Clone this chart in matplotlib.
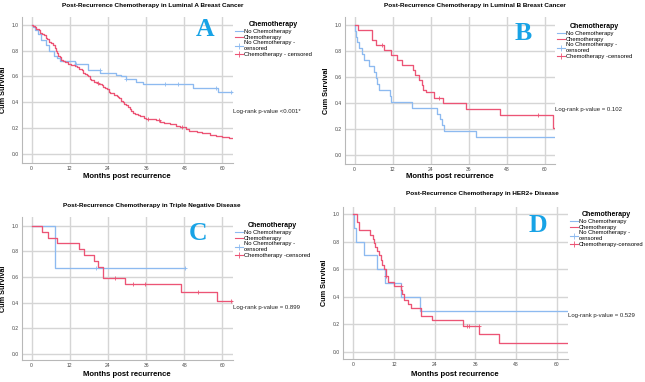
import numpy as np
import matplotlib
matplotlib.use("Agg")
import matplotlib.pyplot as plt
from matplotlib.lines import Line2D

plt.rcParams['font.family'] = ['Liberation Sans', 'DejaVu Sans']

# ---------------- data ----------------
titles = ["Post-Recurrence Chemotherapy in Luminal A Breast Cancer",
          "Post-Recurrence Chemotherapy in Luminal B Breast Cancer",
          "Post-Recurrence Chemotherapy in Triple Negative Disease",
          "Post-Recurrence Chemotherapy in HER2+ Disease"]
panel_letters = ["A", "B", "C", "D"]
pvalue_texts = ["Log-rank p-value <0.001*", "Log-rank p-value = 0.102",
                "Log-rank p-value = 0.899", "Log-rank p-value = 0.529"]
legend_labels = [
    ["No Chemotherapy", "Chemotherapy", "No Chemotherapy -\ncensored", "Chemotherapy - censored"],
    ["No Chemotherapy", "Chemotherapy", "No Chemotherapy -\ncensored", "Chemotherapy -censored"],
    ["No Chemotherapy", "Chemotherapy", "No Chemotherapy -\ncensored", "Chemotherapy -censored"],
    ["No Chemotherapy", "Chemotherapy", "No Chemotherapy -\ncensored", "Chemotherapy-censored"],
]
x_ticks = [0, 12, 24, 36, 48, 60]
y_ticks = [0.0, 0.2, 0.4, 0.6, 0.8, 1.0]

# Panel A
a_no_t = [0, 0.5, 1, 2, 3, 4.5, 5.5, 7, 8, 9, 13.6, 17.7, 21.5, 26.6, 28, 29.7, 32.9, 35, 50.6, 58.5]
a_no_s = [1.0, 0.98, 0.96, 0.93, 0.88, 0.84, 0.80, 0.76, 0.74, 0.72, 0.70, 0.65, 0.63, 0.61, 0.60, 0.58, 0.56, 0.54, 0.51, 0.48]
a_no_c = [14.1, 21.4, 29.7, 41.8, 46.1, 58.0, 62.6]
a_ch_t = [0, 0.5, 1.0, 1.5, 2.2, 2.8, 3.2, 3.8, 4.4, 5.0, 5.6, 6.2, 6.8, 7.4, 7.8, 8.0, 8.4, 8.9,
          9.4, 10.0, 10.5, 11.5, 12.5, 13.5, 14.2, 15.0, 15.7, 16.3, 16.8, 17.3, 17.8, 18.3, 18.8,
          19.5, 20.5, 21.3, 22.0, 22.6, 23.2, 23.8, 24.3, 24.8, 26.0, 26.8, 27.2, 27.6, 28.2, 28.7,
          29.2, 29.7, 30.3, 30.8, 31.4, 32.0, 32.6, 33.3, 34.0, 35.2, 36.0, 39.0, 40.5, 41.5, 43.4,
          45.5, 46.5, 48.5, 49.5, 52.0, 53.7, 56.0, 58.0, 60.0, 62.0]
a_ch_s = [1.0, 0.99, 0.98, 0.97, 0.96, 0.94, 0.93, 0.92, 0.90, 0.89, 0.87, 0.86, 0.84, 0.82, 0.80,
          0.78, 0.76, 0.75, 0.73, 0.72, 0.71, 0.70, 0.69, 0.68, 0.67, 0.66, 0.65, 0.63, 0.62, 0.61,
          0.60, 0.58, 0.57, 0.56, 0.55, 0.54, 0.53, 0.52, 0.51, 0.50, 0.48, 0.47, 0.46, 0.45, 0.44,
          0.43, 0.41, 0.40, 0.39, 0.38, 0.36, 0.35, 0.33, 0.32, 0.31, 0.30, 0.29, 0.28, 0.27, 0.26,
          0.25, 0.24, 0.23, 0.22, 0.21, 0.19, 0.18, 0.17, 0.16, 0.15, 0.14, 0.13, 0.12]
a_ch_c = [20.8, 36.5, 40.2, 47.4]

# Panel B
b_no_t = [0, 0.3, 0.5, 0.7, 1.5, 2.4, 3.0, 4.5, 6.3, 6.7, 7.0, 7.6, 11.2, 11.6, 18.0, 26.0, 26.9, 27.7, 28.4, 38.3]
b_no_s = [1.0, 0.955, 0.909, 0.864, 0.818, 0.773, 0.727, 0.682, 0.636, 0.591, 0.545, 0.50, 0.455, 0.409,
          0.364, 0.318, 0.273, 0.227, 0.182, 0.136]
b_no_c = []
b_ch_t = [0, 1.0, 5.5, 5.6, 6.8, 9.2, 11.5, 13.5, 15.0, 18.5, 19.0, 20.5, 21.2, 21.5, 22.5, 25.0, 27.9, 35.3, 45.9, 62.7]
b_ch_s = [1.0, 0.962, 0.923, 0.885, 0.846, 0.808, 0.769, 0.731, 0.692, 0.654, 0.615, 0.577, 0.538, 0.50,
          0.48, 0.44, 0.40, 0.355, 0.31, 0.207]
b_ch_c = [8.8, 26.6, 58.0]

# Panel C
c_no_t = [0, 7.5]
c_no_s = [1.0, 0.667]
c_no_c = [20.1, 48.2]
c_ch_t = [0, 3.4, 5.3, 8.0, 14.9, 16.5, 19.6, 20.8, 22.5, 22.6, 29.4, 47.0, 58.2]
c_ch_s = [1.0, 0.955, 0.909, 0.864, 0.818, 0.773, 0.727, 0.682, 0.636, 0.59, 0.545, 0.48, 0.41]
c_ch_c = [26.2, 31.9, 35.6, 52.4, 62.8]

# Panel D
d_no_t = [0, 0.3, 0.9, 3.2, 6.9, 9.4, 14.0, 19.8]
d_no_s = [1.0, 0.9, 0.8, 0.7, 0.6, 0.5, 0.4, 0.3]
d_no_c = []
d_ch_t = [0, 1.0, 1.7, 4.9, 5.7, 6.2, 6.5, 6.9, 7.6, 8.1, 8.6, 9.1, 9.8, 10.2, 12.0, 14.1, 14.5, 15.0,
          16.2, 16.9, 19.9, 23.2, 32.4, 37.2, 43.0]
d_ch_s = [1.0, 0.94, 0.88, 0.85, 0.82, 0.79, 0.76, 0.73, 0.70, 0.67, 0.63, 0.60, 0.55, 0.51, 0.48,
          0.45, 0.42, 0.38, 0.35, 0.32, 0.26, 0.23, 0.19, 0.13, 0.065]
d_ch_c = [9.8, 14.0, 33.6, 34.2, 37.0]

panels = [
    (a_no_t, a_no_s, a_no_c, a_ch_t, a_ch_s, a_ch_c),
    (b_no_t, b_no_s, b_no_c, b_ch_t, b_ch_s, b_ch_c),
    (c_no_t, c_no_s, c_no_c, c_ch_t, c_ch_s, c_ch_c),
    (d_no_t, d_no_s, d_no_c, d_ch_t, d_ch_s, d_ch_c),
]
end_times = [63.2, 63.2, [48.2, 63.2], 63.4]

# ---------------- styles / layout (pixels) ----------------
W, H = 645, 382
BLUE = '#8DBAF0'
RED = '#EC5475'
LETTER = '#18A3E6'
GRID = '#D5D5D5'

# axes boxes: left, top, right, bottom in pixels
boxes = [(22, 17, 233, 163), (345, 17, 555, 164), (22, 217, 233, 360), (343, 207, 568, 359)]
ylims = [(-0.07, 1.06), (-0.07, 1.06), (-0.05, 1.07), (-0.05, 1.05)]
title_pos = [(153, 6), (475, 6), (152, 205), (482, 194)]
letter_pos = [(205, 29), (523, 33), (198, 234), (538, 226)]
p_pos = [(233, 112), (555, 110), (233, 308), (568, 316)]
legend_pos = [(231, 17), (553, 19), (231, 218), (566, 207)]
xlabel_pos = [(127, 176), (450, 176), (127, 375), (455, 375)]

fig = plt.figure(figsize=(W / 100, H / 100), dpi=100)


def step_value(t, s, x):
    idx = np.searchsorted(np.asarray(t), x, side='right') - 1
    return np.asarray(s)[idx]


for i, (nt, ns, nc, ct, cs, cc) in enumerate(panels):
    l, t, r, b = boxes[i]
    ax = fig.add_axes([l / W, 1 - b / H, (r - l) / W, (b - t) / H])
    ax.set_xlim(-3, 63.3)
    ax.set_ylim(*ylims[i])
    ax.set_xticks(x_ticks)
    ax.set_yticks(y_ticks)
    ax.set_yticklabels([f"{v:.1f}" for v in y_ticks])
    ax.grid(True, color=GRID, linewidth=1.0)
    ax.set_axisbelow(True)
    for sp in ['top', 'right']:
        ax.spines[sp].set_visible(False)
    for sp in ['left', 'bottom']:
        ax.spines[sp].set_color('#B8B8B8')
        ax.spines[sp].set_linewidth(0.8)
    ax.tick_params(labelsize=3.6, length=0, pad=2.5, colors='#444444')

    e = end_times[i]
    if isinstance(e, list):
        e_no, e_ch = e
    else:
        e_no = e_ch = e
    ax.step(list(nt) + [e_no], list(ns) + [ns[-1]], where='post', color=BLUE, lw=0.95)
    ax.step(list(ct) + [e_ch], list(cs) + [cs[-1]], where='post', color=RED, lw=0.95)
    if nc:
        ax.plot(nc, step_value(nt, ns, nc), '+', color=BLUE, ms=3, mew=0.6, ls='none')
    if cc:
        ax.plot(cc, step_value(ct, cs, cc), '+', color=RED, ms=3, mew=0.6, ls='none')

    ax.set_ylabel("Cum Survival", fontsize=5.2, fontweight='bold', labelpad=3)

    fig.text(xlabel_pos[i][0] / W, 1 - xlabel_pos[i][1] / H, "Months post recurrence",
             fontsize=5.6, fontweight='bold', ha='center', va='center')
    fig.text(title_pos[i][0] / W, 1 - title_pos[i][1] / H, titles[i],
             fontsize=4.6, fontweight='bold', ha='center', va='center')
    fig.text(letter_pos[i][0] / W, 1 - letter_pos[i][1] / H, panel_letters[i],
             fontsize=18.5, fontweight='bold', ha='center', va='center', color=LETTER,
             family=['Liberation Serif', 'DejaVu Serif'])
    fig.text(p_pos[i][0] / W, 1 - p_pos[i][1] / H, pvalue_texts[i],
             fontsize=4.3, ha='left', va='center', color='#222222')

    handles = [Line2D([], [], color=BLUE, lw=0.8),
               Line2D([], [], color=RED, lw=0.8),
               Line2D([], [], color=BLUE, lw=0.8, marker='+', ms=4, mew=0.6),
               Line2D([], [], color=RED, lw=0.8, marker='+', ms=4, mew=0.6)]
    leg = ax.legend(handles, legend_labels[i], title="Chemotherapy",
                    loc='upper left', bbox_to_anchor=(legend_pos[i][0] / W, 1 - legend_pos[i][1] / H),
                    bbox_transform=fig.transFigure, frameon=False, fontsize=4.2,
                    title_fontproperties={'weight': 'bold', 'size': 5.0},
                    handlelength=1.3, handletextpad=0.2, labelspacing=0.12, borderpad=0.2)

fig.savefig("out.png", dpi=100)
